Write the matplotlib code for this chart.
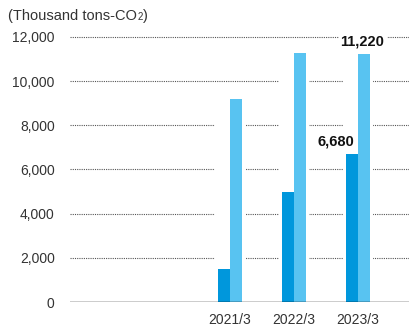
import matplotlib.pyplot as plt
import numpy as np

plt.rcParams['font.family'] = ['Liberation Sans', 'DejaVu Sans']

# data
years = ['2021/3', '2022/3', '2023/3']
series_dark = [1500, 5000, 6680]
series_light = [9200, 11260, 11220]
yticks = [0, 2000, 4000, 6000, 8000, 10000, 12000]

dark_col = '#0097dc'
light_col = '#58c3f1'

fig = plt.figure(figsize=(4.09, 3.31), dpi=100)
ax = fig.add_axes([0.171, 0.0876, 0.829, 0.834])

x = np.arange(len(years))
w = 0.1875

# white mask behind each pair so the dotted grid breaks around the bars
mask_h = [max(a, b) for a, b in zip(series_dark, series_light)]
ax.bar(x, mask_h, width=2 * w + 0.09, color='white', zorder=2)
ax.bar(x - w / 2, series_dark, width=w, color=dark_col, zorder=3)
ax.bar(x + w / 2, series_light, width=w, color=light_col, zorder=3)

for yv in yticks[1:]:
    ax.axhline(yv, color='#555555', lw=0.8, ls=(0, (1, 1)), zorder=1)
ax.axhline(0, color='black', lw=1.0, zorder=4)

ax.set_xlim(-2.5, 2.8)
ax.set_ylim(0, 12500)
ax.set_yticks(yticks)
ax.set_yticklabels([f'{v:,}' for v in yticks])
ax.set_xticks(x)
ax.set_xticklabels(years)
ax.tick_params(length=0, labelsize=10, colors='#333333')
ax.tick_params(axis='y', pad=11)
ax.tick_params(axis='x', pad=8)
for s in ax.spines.values():
    s.set_visible(False)

ax.text(x[2] + w / 2 - 0.02, series_light[2] + 250, f'{series_light[2]:,}', ha='center', va='bottom',
        fontsize=10.5, fontweight='bold', color='#111111', zorder=5,
        bbox=dict(facecolor='white', edgecolor='none', pad=1.5))
ax.text(x[2] - 0.05, series_dark[2] + 250, f'{series_dark[2]:,}', ha='right', va='bottom',
        fontsize=10.5, fontweight='bold', color='#111111', zorder=5)

# unit label with a small subscript 2
r = fig.canvas.get_renderer()
t1 = fig.text(0.02, 0.94, '(Thousand tons-CO', fontsize=10.5, color='#333333', va='baseline')
x1 = t1.get_window_extent(r).x1 / fig.bbox.width
t2 = fig.text(x1 + 0.001, 0.94, '2', fontsize=7, color='#333333', va='baseline')
x2 = t2.get_window_extent(r).x1 / fig.bbox.width
fig.text(x2 + 0.001, 0.94, ')', fontsize=10.5, color='#333333', va='baseline')

fig.savefig('out.png', dpi=100)
